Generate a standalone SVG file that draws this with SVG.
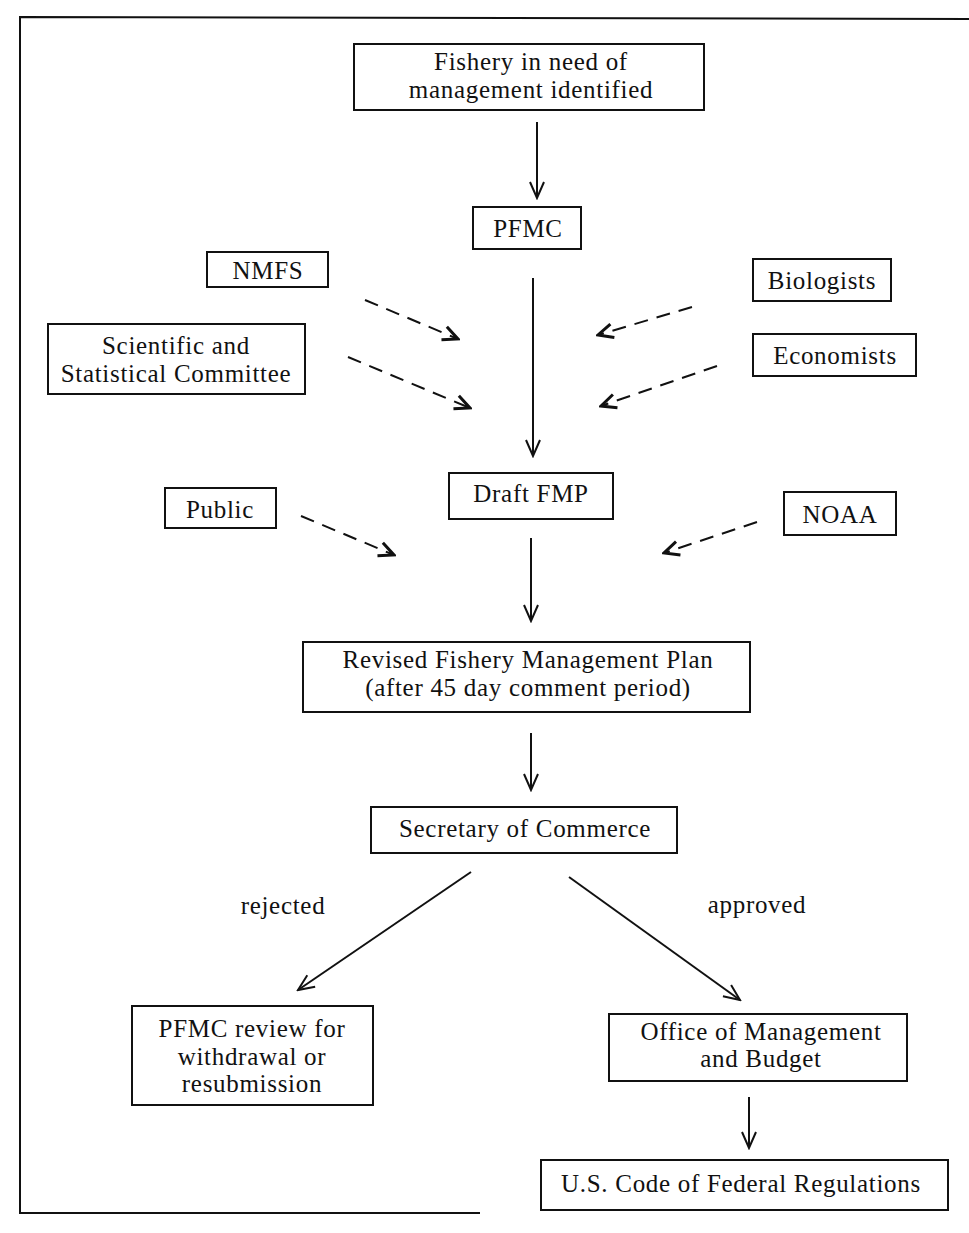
<svg xmlns="http://www.w3.org/2000/svg" width="969" height="1233" viewBox="0 0 969 1233">
<style>
.box{fill:#fff;stroke:#111;stroke-width:2}
text{font-family:"Liberation Serif","Times New Roman",serif;font-size:25px;letter-spacing:0.7px;fill:#111;text-anchor:middle}
.c{stroke:#111;stroke-width:2;fill:none}
.d{stroke-dasharray:14 9}
</style>
<defs>
<marker id="ah" viewBox="0 0 20 20" refX="18" refY="10" markerWidth="20" markerHeight="20" markerUnits="userSpaceOnUse" orient="auto">
<path d="M2,3 L18,10 L2,17" fill="none" stroke="#111" stroke-width="2"/>
</marker>
<marker id="ahd" viewBox="0 0 20 20" refX="18" refY="10" markerWidth="20" markerHeight="20" markerUnits="userSpaceOnUse" orient="auto">
<path d="M3,3 L18,10 L3,17" fill="none" stroke="#111" stroke-width="3"/>
</marker>
</defs>
<rect width="969" height="1233" fill="#fff"/>
<g id="frame"><path d="M969,19 L20,17 L20,1213 L480,1213" fill="none" stroke="#111" stroke-width="2"/></g>
<g id="connectors">
<line class="c" x1="537" y1="122" x2="537" y2="198" marker-end="url(#ah)"/>
<line class="c" x1="533" y1="278" x2="533" y2="456" marker-end="url(#ah)"/>
<line class="c" x1="531" y1="538" x2="531" y2="621" marker-end="url(#ah)"/>
<line class="c" x1="531" y1="733" x2="531" y2="790" marker-end="url(#ah)"/>
<line class="c" x1="471" y1="872" x2="298" y2="990" marker-end="url(#ah)"/>
<line class="c" x1="569" y1="877" x2="740" y2="1000" marker-end="url(#ah)"/>
<line class="c" x1="749" y1="1097" x2="749" y2="1148" marker-end="url(#ah)"/>
<line class="c d" x1="365" y1="300" x2="458" y2="339" marker-end="url(#ahd)"/>
<line class="c d" x1="348" y1="357" x2="470" y2="408" marker-end="url(#ahd)"/>
<line class="c d" x1="692" y1="307" x2="598" y2="335" marker-end="url(#ahd)"/>
<line class="c d" x1="717" y1="366" x2="601" y2="406" marker-end="url(#ahd)"/>
<line class="c d" x1="301" y1="516" x2="394" y2="555" marker-end="url(#ahd)"/>
<line class="c d" x1="757" y1="522" x2="664" y2="553" marker-end="url(#ahd)"/>
<text x="283" y="914">rejected</text>
<text x="757" y="913">approved</text>
</g>
<g id="n-fishery"><rect class="box" x="354" y="44" width="350" height="66"/><text x="531" y="70">Fishery in need of</text><text x="531" y="98">management identified</text></g>
<g id="n-pfmc"><rect class="box" x="473" y="207" width="108" height="42"/><text x="528" y="237">PFMC</text></g>
<g id="n-nmfs"><rect class="box" x="207" y="252" width="121" height="35"/><text x="268" y="279">NMFS</text></g>
<g id="n-bio"><rect class="box" x="753" y="259" width="138" height="42"/><text x="822" y="289">Biologists</text></g>
<g id="n-ssc"><rect class="box" x="48" y="324" width="257" height="70"/><text x="176" y="354">Scientific and</text><text x="176" y="382">Statistical Committee</text></g>
<g id="n-econ"><rect class="box" x="753" y="334" width="163" height="42"/><text x="835" y="364">Economists</text></g>
<g id="n-draft"><rect class="box" x="449" y="473" width="164" height="46"/><text x="531" y="502">Draft FMP</text></g>
<g id="n-public"><rect class="box" x="165" y="488" width="111" height="40"/><text x="220" y="518">Public</text></g>
<g id="n-noaa"><rect class="box" x="784" y="492" width="112" height="43"/><text x="840" y="523">NOAA</text></g>
<g id="n-revised"><rect class="box" x="303" y="642" width="447" height="70"/><text x="528" y="668">Revised Fishery Management Plan</text><text x="528" y="696">(after 45 day comment period)</text></g>
<g id="n-sec"><rect class="box" x="371" y="807" width="306" height="46"/><text x="525" y="837">Secretary of Commerce</text></g>
<g id="n-review"><rect class="box" x="132" y="1006" width="241" height="99"/><text x="252" y="1037">PFMC review for</text><text x="252" y="1065">withdrawal or</text><text x="252" y="1092">resubmission</text></g>
<g id="n-omb"><rect class="box" x="609" y="1014" width="298" height="67"/><text x="761" y="1040">Office of Management</text><text x="761" y="1067">and Budget</text></g>
<g id="n-cfr"><rect class="box" x="541" y="1160" width="407" height="50"/><text x="741" y="1192">U.S. Code of Federal Regulations</text></g>
</svg>
